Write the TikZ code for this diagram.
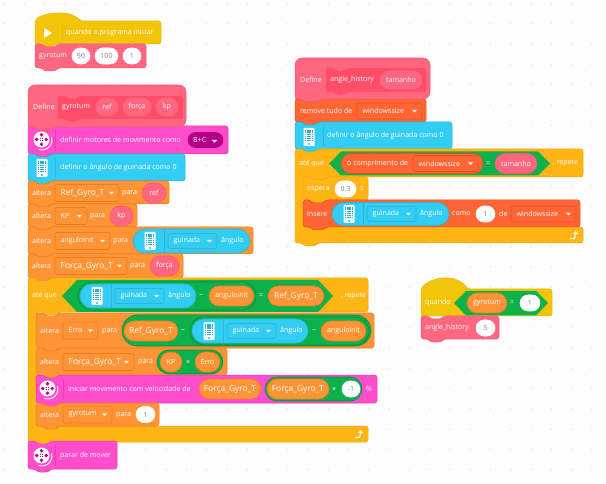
\documentclass[tikz,border=0pt]{standalone}
\usepackage{fontspec}
\setmainfont{Open Sans}
\usetikzlibrary{shapes.misc,calc}
\definecolor{bgc}{HTML}{FDFDFD}
\definecolor{dotc}{HTML}{E4E6E8}
\definecolor{hatc}{HTML}{F2C40A}
\definecolor{hated}{HTML}{E6BA08}
\definecolor{myb}{HTML}{FF6680}
\definecolor{myd}{HTML}{FF4D6A}
\definecolor{myed}{HTML}{F25C75}
\definecolor{mot}{HTML}{FF4DCC}
\definecolor{moted}{HTML}{E63DB5}
\definecolor{motd}{HTML}{B30086}
\definecolor{gyr}{HTML}{33CCF2}
\definecolor{gyred}{HTML}{2BB5D8}
\definecolor{var}{HTML}{FF9436}
\definecolor{vared}{HTML}{E67E22}
\definecolor{ctl}{HTML}{FFB515}
\definecolor{ctled}{HTML}{EDA70F}
\definecolor{grn}{HTML}{0DB14B}
\definecolor{grd}{HTML}{0B8A3C}
\definecolor{lst}{HTML}{FF6633}
\definecolor{lsted}{HTML}{E6511F}
\newcounter{nid}
\newcommand{\gn}[1]{{\fontsize{8.4}{9}\selectfont #1}}
\tikzset{
 x=1pt,y=-1pt,
 lab/.style={font=\fontsize{7.05}{9}\selectfont,text=white,inner sep=0pt},
 pillbox/.style={rounded rectangle,inner sep=0pt,font=\fontsize{7.05}{9}\selectfont,text=white,line width=.6pt},
 blk/.style={rounded corners=2.5pt,line width=.5pt},
}
% text at left edge
\newcommand{\tx}[3]{\stepcounter{nid}\node[lab,anchor=west,name=t\arabic{nid}] at (#1,#2) {#3};}
% stacked block: x1 y1 x2 y2 fill edge
\newcommand{\stk}[6]{\draw[blk,fill=#5,draw=#6] (#1,#2) -- ({#1+7},#2) -- ({#1+10},{#2+3}) -- ({#1+20},{#2+3}) -- ({#1+23},#2) -- (#3,#2) -- (#3,#4) -- ({#1+23},#4) -- ({#1+20},{#4+3}) -- ({#1+10},{#4+3}) -- ({#1+7},#4) -- (#1,#4) -- cycle;}
% pill: x1 x2 yc h fill edge textcolor text
\newcommand{\pil}[8]{\stepcounter{nid}\node[pillbox,fill=#5,draw=#6,minimum width={(#2)-(#1)},minimum height=#4,text=#7,name=p\arabic{nid}] at ({(#1+#2)/2},#3) {#8};}
\newcommand{\wpl}[4]{\pil{#1}{#2}{#3}{16}{white}{white}{black!50}{#4}}
\newcommand{\vpl}[4]{\pil{#1}{#2}{#3}{20}{var}{vared}{white}{#4}}
\newcommand{\rpl}[4]{\pil{#1}{#2}{#3}{20}{myb}{myed}{white}{#4}}
% dropdown: x1 x2 yc h fill edge text
\newcommand{\ddn}[7]{\draw[rounded corners=1.5pt,fill=#5,draw=#6,line width=.6pt] (#1,{#3-#4/2}) rectangle (#2,{#3+#4/2});
 \tx{#1+5.5}{#3}{#7}
 \fill[white] ({#2-10},{#3-1.2}) -- ({#2-5},{#3-1.2}) -- ({#2-7.5},{#3+1.4}) -- cycle;}
\newcommand{\vdn}[4]{\ddn{#1}{#2}{#3}{17}{var}{vared}{#4}}
\newcommand{\ldn}[4]{\ddn{#1}{#2}{#3}{16}{lst}{lsted}{#4}}
% phone icon
\newcommand{\phoneic}[2]{\begin{scope}[shift={(#1,#2)}]
 \fill[white,rounded corners=.8pt] (-5.5,-9) rectangle (5.5,9);
 \foreach \i in {0,...,4}{\foreach \j in {0,...,5}{\fill[gyr!85!black] ({-4.2+\i*1.75},{-6.8+\j*1.9}) rectangle +(1.3,1.4);}}
 \draw[gyr!85!black,line width=.4pt] (0,7) circle (.8);
 \end{scope}}
% motor icon
\newcommand{\motoric}[2]{\begin{scope}[shift={(#1,#2)}]
 \fill[white] (-0.5,-0.5) circle (8);
 \draw[white,line width=.9pt] (0,0) ++(-15:10) arc[start angle=-15,end angle=110,radius=10];
 \foreach \a in {0,90,180,270}{\fill[motd] ($(-0.5,-0.5)+(\a:4.7)$) circle (1.9);}
 \foreach \a in {45,135,225,315}{\fill[motd] ($(-0.5,-0.5)+(\a:1.6)$) circle (.55);}
 \end{scope}}
% loop arrow icon
\newcommand{\retic}[2]{\begin{scope}[shift={(#1,#2)}]
 \draw[white,line width=1.1pt] (-4,3.5) -- (0.5,3.5) -- (1.5,-1);
 \fill[white] (-1,-1) -- (1.8,-4) -- (4,-0.8) -- cycle;
 \end{scope}}
% blue reporter: x1 x2 yc h, phone at x1+17
\newcommand{\gyp}[4]{\pil{#1}{#2}{#3}{#4}{gyr}{gyred}{white}{}
 \phoneic{#1+17}{#3}
 \draw[gyred,line width=.6pt] ({#1+31},{#3-#4/2}) -- ({#1+31},{#3+#4/2});
 \ddn{#1+35}{#1+84}{#3}{15}{gyr}{gyred}{guinada}
 \tx{#1+88}{#3}{ângulo}}
\begin{document}
\begin{tikzpicture}
\useasboundingbox (0,0) rectangle (606,484);
\fill[bgc] (0,0) rectangle (606,484);
\foreach \i in {0,...,29}{\foreach \j in {0,...,23}{\fill[dotc] ({4+\i*20.27},{3.5+\j*20.27}) circle (.8);}}

% --- hat 1
\draw[blk,fill=hatc,draw=hated] (35,44) -- (35,21) .. controls (40,15) and (50,13) .. (60,13) .. controls (69,13) and (76,16) .. (81,21) -- (161,21) -- (161,44) -- (55,44) -- (52,47) -- (42,47) -- (39,44) -- cycle;
\fill[white] (44,28) -- (52,33) -- (44,38) -- cycle;
\draw[hated,line width=.6pt] (62,23) -- (62,42);
\tx{66}{33}{quando o programa iniciar}
\stk{35}{44}{146}{68}{myb}{myed}
\tx{39}{56}{gyrotum}
\wpl{72}{90}{56}{90}\wpl{95}{118}{56}{100}\wpl{123}{141}{56}{1}

% --- define gyrotum
\stk{28}{126}{228}{154}{mot}{moted}
\draw[blk,rounded corners=7pt,fill=myb,draw=myed] (28,127) -- (28,85) -- (186,85) -- (186,127) -- (51,127) [rounded corners=2pt] -- (48,130) -- (38,130) -- (35,127) -- cycle;
\draw[rounded corners=2pt,fill=myd,draw=none] (58,96) -- (66,96) -- (69,99) -- (76,99) -- (79,96) -- (183,96) -- (183,119) -- (79,119) -- (76,122) -- (69,122) -- (66,119) -- (58,119) -- cycle;
\tx{33}{107}{Define}
\tx{62}{107}{gyrotum}
\pil{96}{118}{107}{18}{myb}{myb}{white}{ref}
\pil{123}{151}{107}{18}{myb}{myb}{white}{força}
\pil{156}{178}{107}{18}{myb}{myb}{white}{kp}
\motoric{42}{140}
\draw[moted,line width=.6pt] (55,130) -- (55,151);
\tx{60}{140}{definir motores de movimento como}
\pil{188}{223}{140}{15}{motd}{motd}{white}{}
\tx{193}{140}{B+C}
\fill[white] (212,140) -- (217,140) -- (214.5,142.6) -- cycle;
\stk{28}{154}{185}{181}{gyr}{gyred}
\phoneic{42}{168}
\draw[gyred,line width=.6pt] (55,158) -- (55,178);
\tx{60}{167.5}{definir o ângulo de guinada como 0}
\stk{28}{181}{169}{204}{var}{vared}
\tx{32}{193}{altera}\vdn{55}{119}{193}{\gn{Ref\_Gyro\_T}}\tx{122}{193}{para}\rpl{142}{166}{193}{ref}
\stk{28}{204}{137}{227}{var}{vared}
\tx{32}{216}{altera}\vdn{55}{87}{216}{KP}\tx{90}{216}{para}\rpl{110}{133}{216}{kp}
\stk{28}{227}{253}{254}{var}{vared}
\tx{32}{241}{altera}\vdn{55}{110}{241}{anguloinit}\tx{113}{241}{para}
\gyp{133}{250}{241}{24}
\stk{28}{254}{183}{278}{var}{vared}
\tx{32}{266}{altera}\vdn{55}{127}{266}{\gn{Força\_Gyro\_T}}\tx{130}{266}{para}\rpl{150}{179}{266}{força}

% --- loop 1
\draw[blk,fill=ctl,draw=ctled] (28,278) -- (35,278) -- (38,281) -- (48,281) -- (51,278) -- (368,278) -- (368,312) -- (59,312) -- (56,315) -- (46,315) -- (43,312) -- (36,312) -- (36,426) -- (368,426) -- (368,442) -- (51,442) -- (48,445) -- (38,445) -- (35,442) -- (28,442) -- cycle;
\fill[grn] (62,296) -- (77,280) -- (318,280) -- (333,296) -- (318,312) -- (77,312) -- cycle;
\tx{32}{296}{até que}
\pil{78}{256}{296}{28}{grn}{grd}{white}{}
\gyp{80}{196}{296}{24}
\tx{199}{296}{−}
\vpl{209}{254}{296}{anguloinit}
\tx{259}{296}{=}
\vpl{268}{324}{296}{\gn{Ref\_Gyro\_T}}
\tx{341}{296}{, repete}
\stk{36}{313}{374}{348}{var}{vared}
\tx{40}{331}{altera}\vdn{63}{98}{330.5}{Erro}\tx{102}{331}{para}
\pil{122}{371}{330.5}{31}{grn}{grd}{white}{}
\vpl{124}{178}{331}{\gn{Ref\_Gyro\_T}}
\tx{181}{331}{−}
\pil{190}{369}{331}{28}{grn}{grd}{white}{}
\gyp{192}{308}{331}{24}
\tx{312}{331}{−}
\vpl{321}{366}{331}{anguloinit}
\stk{36}{348}{227}{375}{var}{vared}
\tx{40}{362}{altera}\vdn{63}{134}{362}{\gn{Força\_Gyro\_T}}\tx{138}{362}{para}
\pil{157}{223}{362}{24}{grn}{grd}{white}{}
\vpl{160}{182}{362}{KP}
\tx{186}{362}{×}
\vpl{195}{220}{362}{Erro}
\stk{36}{375}{377}{403}{mot}{moted}
\motoric{48}{389}
\draw[moted,line width=.6pt] (63,379) -- (63,399);
\tx{68}{389}{iniciar movimento com velocidade de}
\vpl{199}{261}{389}{\gn{Força\_Gyro\_T}}
\pil{265}{362}{389}{24}{grn}{grd}{white}{}
\vpl{267}{329}{389}{\gn{Força\_Gyro\_T}}
\tx{332}{389}{×}
\wpl{342}{360}{389}{-1}
\tx{366}{389}{\%}
\stk{36}{403}{159}{426}{var}{vared}
\tx{40}{415}{altera}\vdn{63}{112}{414.5}{gyrotum}\tx{116}{415}{para}\wpl{136}{155}{414.5}{1}
\retic{359}{434}
\stk{28}{441}{117}{469}{mot}{moted}
\motoric{42}{456}
\draw[moted,line width=.6pt] (55,445) -- (55,466);
\tx{60}{455.5}{parar de mover}

% --- define angle_history
\stk{295}{99}{426}{122}{lst}{lsted}
\draw[blk,rounded corners=7pt,fill=myb,draw=myed] (295,99) -- (295,58) -- (430,58) -- (430,99) -- (318,99) [rounded corners=2pt] -- (315,102) -- (305,102) -- (302,99) -- cycle;
\draw[rounded corners=2pt,fill=myd,draw=none] (326,68) -- (334,68) -- (337,71) -- (344,71) -- (347,68) -- (426,68) -- (426,92) -- (347,92) -- (344,95) -- (337,95) -- (334,92) -- (326,92) -- cycle;
\tx{300}{80}{Define}\tx{330}{80}{angle\_history}
\pil{380}{422}{80}{18}{myb}{myb}{white}{tamanho}
\tx{300}{111}{remove tudo de}\ldn{357}{422}{111}{windowssize}
\stk{295}{122}{452}{149}{gyr}{gyred}
\phoneic{309}{137}
\draw[gyred,line width=.6pt] (323,126) -- (323,146);
\tx{327}{136}{definir o ângulo de guinada como 0}
\draw[blk,fill=ctl,draw=ctled] (295,149) -- (302,149) -- (305,152) -- (315,152) -- (318,149) -- (583,149) -- (583,177) -- (326,177) -- (323,180) -- (313,180) -- (310,177) -- (303,177) -- (303,227) -- (583,227) -- (583,243) -- (318,243) -- (315,246) -- (305,246) -- (302,243) -- (295,243) -- cycle;
\fill[grn] (329,163.5) -- (341,151.5) -- (538,151.5) -- (550,163.5) -- (538,175.5) -- (341,175.5) -- cycle;
\tx{299}{163.5}{até que}
\pil{341}{483}{163.5}{20}{lst}{lsted}{white}{}
\tx{347}{163.5}{o comprimento de}
\ldn{413}{478}{163.5}{windowssize}
\tx{486}{163.5}{=}
\rpl{495}{537}{163.5}{tamanho}
\tx{553}{163.5}{, repete}
\stk{303}{177}{368}{200}{ctl}{ctled}
\tx{307}{189}{espera}\wpl{335}{356}{189}{0.3}\tx{360}{189}{s}
\stk{303}{200}{580}{227}{lst}{lsted}
\tx{307}{214}{insere}
\gyp{332}{449}{214}{23}
\tx{452}{214}{como}\wpl{476}{495}{214}{1}\tx{499}{214}{de}\ldn{511}{576}{214}{windowssize}
\retic{574}{235}

% --- hat 2
\draw[blk,fill=hatc,draw=hated] (421,316) -- (421,289) .. controls (426,282) and (436,278) .. (446,278) .. controls (455,278) and (463,282) .. (468,289) -- (552,289) -- (552,316) -- cycle;
\fill[grn] (454,303) -- (466,291) -- (536,291) -- (548,303) -- (536,315.5) -- (466,315.5) -- cycle;
\tx{425}{303}{quando}
\vpl{467}{507}{303}{gyrotum}
\tx{510}{303}{=}
\wpl{520}{540}{303}{1}
\stk{421}{316}{499}{339}{myb}{myed}
\tx{425}{328}{angle\_history}
\wpl{476}{495}{328}{5}
\end{tikzpicture}
\end{document}
